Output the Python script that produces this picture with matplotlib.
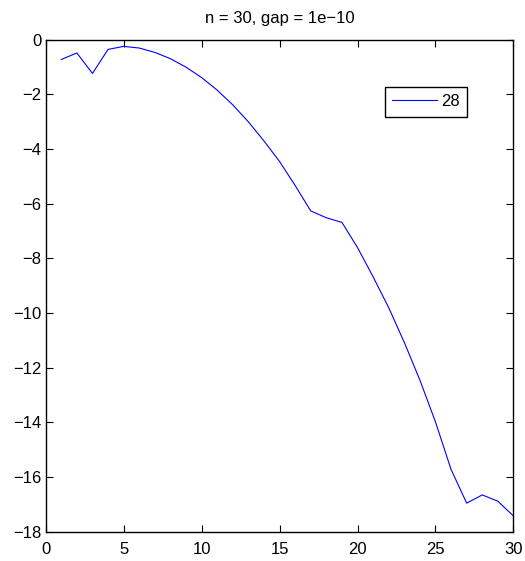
import numpy as np
import matplotlib
matplotlib.use('Agg')
import matplotlib.pyplot as plt
from matplotlib import font_manager

x_vals = list(range(1, 31))
y_vals = [-0.72, -0.48, -1.23, -0.35, -0.24, -0.30, -0.46, -0.69, -1.00, -1.38,
          -1.84, -2.38, -3.00, -3.70, -4.45, -5.33, -6.26, -6.51, -6.68, -7.60,
          -8.67, -9.80, -11.07, -12.45, -13.98, -15.72, -16.95, -16.65, -16.88, -17.42]
series_label = '28'
title_text = 'n = 30, gap = 1e\u221210'
xticks = np.arange(0, 31, 5)
yticks = np.arange(-18, 1, 2)

names = set(f.name for f in font_manager.fontManager.ttflist)
fam = 'Liberation Sans Narrow' if 'Liberation Sans Narrow' in names else 'Liberation Sans'
plt.rcParams['font.family'] = [fam, 'DejaVu Sans']
plt.rcParams['font.size'] = 12

fig = plt.figure(figsize=(5.25, 5.61), dpi=100)
ax = fig.add_axes([0.087, 0.052, 0.891, 0.877])

ax.plot(x_vals, y_vals, color='#0000ff', linewidth=0.8, label=series_label)

ax.set_xlim(0, 30)
ax.set_ylim(-18, 0)
ax.set_xticks(xticks)
ax.set_yticks(yticks)
ax.set_yticklabels([('\u2212%d' % -t) if t < 0 else '%d' % t for t in yticks])
ax.tick_params(direction='in', top=True, right=True, length=5, width=0.8)
ax.tick_params(axis='x', pad=7)
ax.tick_params(axis='y', pad=3)
for s in ax.spines.values():
    s.set_linewidth(1.0)

ax.set_title(title_text, fontsize=12, pad=12)

leg = ax.legend(loc='upper right', bbox_to_anchor=(0.9016, 0.9045), fancybox=False,
                framealpha=1, edgecolor='black', handlelength=2.7, handletextpad=0.25,
                borderpad=0.45, borderaxespad=0)
leg.get_frame().set_linewidth(1.0)

fig.savefig('out.png', dpi=100)
